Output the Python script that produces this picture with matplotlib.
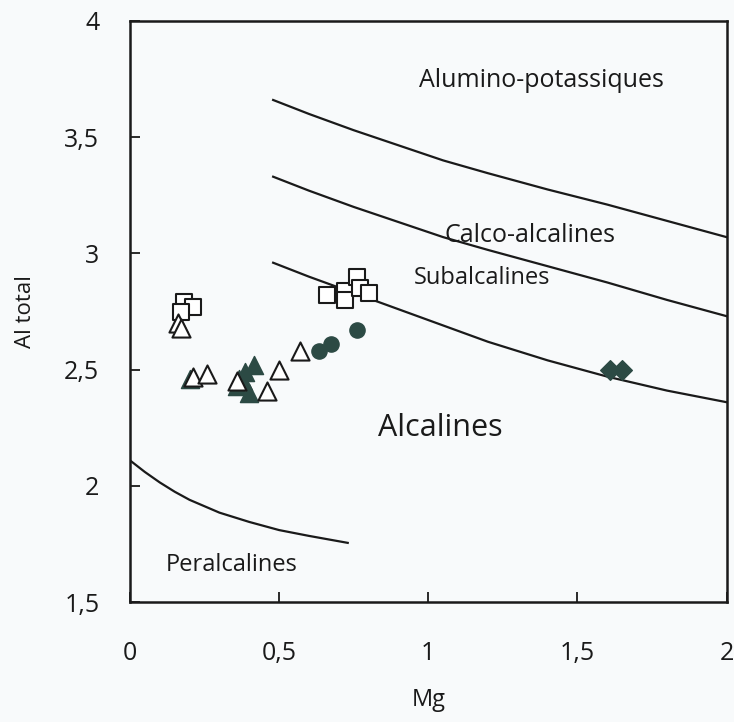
import matplotlib
matplotlib.use('Agg')
import matplotlib.pyplot as plt

plt.rcParams['font.family'] = ['Open Sans', 'DejaVu Sans']

# --- boundary curves ---
c1_x = [0.48, 0.6, 0.75, 0.9, 1.05, 1.2, 1.4, 1.6, 1.8, 2.0]
c1_y = [3.66, 3.60, 3.53, 3.465, 3.40, 3.345, 3.275, 3.21, 3.14, 3.07]
c2_x = [0.48, 0.6, 0.75, 0.9, 1.05, 1.2, 1.4, 1.6, 1.8, 2.0]
c2_y = [3.33, 3.27, 3.20, 3.135, 3.07, 3.015, 2.945, 2.875, 2.80, 2.73]
c3_x = [0.48, 0.6, 0.75, 0.9, 1.05, 1.2, 1.4, 1.6, 1.8, 2.0]
c3_y = [2.96, 2.90, 2.83, 2.76, 2.69, 2.62, 2.54, 2.47, 2.41, 2.36]
c4_x = [0.0, 0.05, 0.1, 0.15, 0.2, 0.3, 0.4, 0.5, 0.6, 0.73]
c4_y = [2.11, 2.06, 2.015, 1.975, 1.94, 1.885, 1.845, 1.81, 1.785, 1.755]

# --- samples ---
sq_x = [0.18, 0.21, 0.17, 0.66, 0.72, 0.72, 0.76, 0.77, 0.80]
sq_y = [2.79, 2.77, 2.75, 2.82, 2.84, 2.80, 2.90, 2.85, 2.83]
otri_x = [0.16, 0.17, 0.21, 0.26, 0.57, 0.50, 0.46, 0.36]
otri_y = [2.70, 2.68, 2.47, 2.48, 2.58, 2.50, 2.41, 2.45]
ftri_x = [0.20, 0.415, 0.385, 0.365, 0.36, 0.40, 0.38]
ftri_y = [2.46, 2.52, 2.49, 2.46, 2.43, 2.40, 2.45]
circ_x = [0.635, 0.675, 0.76]
circ_y = [2.58, 2.61, 2.67]
diam_x = [1.61, 1.65]
diam_y = [2.50, 2.50]

fill_col = '#2c4a44'
ink = '#1a1a1a'
bg = '#f8fafb'

fig = plt.figure(figsize=(7.34, 7.22), dpi=100, facecolor=bg)
ax = fig.add_axes([0.177, 0.166, 0.813, 0.805], facecolor=bg)

for cx, cy in [(c1_x, c1_y), (c2_x, c2_y), (c3_x, c3_y), (c4_x, c4_y)]:
    ax.plot(cx, cy, color=ink, lw=1.6, zorder=2)

ax.scatter(sq_x, sq_y, marker='s', s=120, facecolor='white', edgecolor=ink, linewidth=1.5, zorder=3)
ax.scatter(ftri_x, ftri_y, marker='^', s=170, color=fill_col, edgecolor=fill_col, zorder=3)
ax.scatter(otri_x, otri_y, marker='^', s=170, facecolor='white', edgecolor=ink, linewidth=1.5, zorder=4)
ax.scatter(circ_x, circ_y, marker='o', s=120, color=fill_col, zorder=3)
ax.scatter(diam_x, diam_y, marker='D', s=100, color=fill_col, zorder=3)

ax.text(1.38, 3.745, 'Alumino-potassiques', fontsize=18, ha='center', va='center', color=ink)
ax.text(1.34, 3.075, 'Calco-alcalines', fontsize=18, ha='center', va='center', color=ink)
ax.text(1.18, 2.895, 'Subalcalines', fontsize=17, ha='center', va='center', color=ink)
ax.text(1.04, 2.25, 'Alcalines', fontsize=22, ha='center', va='center', color=ink)
ax.text(0.34, 1.66, 'Peralcalines', fontsize=17, ha='center', va='center', color=ink)

ax.set_xlim(0, 2)
ax.set_ylim(1.5, 4)
ax.set_xticks([0, 0.5, 1, 1.5, 2])
ax.set_xticklabels(['0', '0,5', '1', '1,5', '2'])
ax.set_yticks([1.5, 2, 2.5, 3, 3.5, 4])
ax.set_yticklabels(['1,5', '2', '2,5', '3', '3,5', '4'])
ax.tick_params(direction='in', length=7, width=1.3, labelsize=18, colors=ink)
ax.tick_params(axis='x', pad=28)
ax.tick_params(axis='y', pad=22)
for sp in ax.spines.values():
    sp.set_linewidth(1.8)
    sp.set_color(ink)

ax.set_xlabel('Mg', fontsize=17, labelpad=16, color=ink)
ax.set_ylabel('Al total', fontsize=16, labelpad=20, color=ink)

fig.savefig('out.png', dpi=100, facecolor=bg)
